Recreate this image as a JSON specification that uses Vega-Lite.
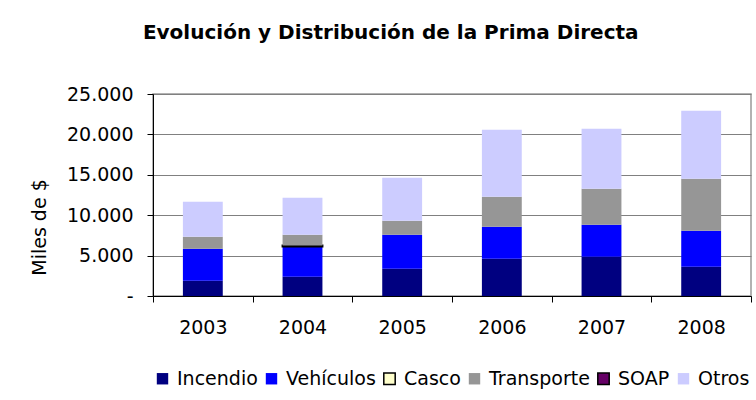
{
  "$schema": "https://vega.github.io/schema/vega-lite/v6.json",
  "width": 598,
  "height": 202,
  "padding": {"left": 30, "top": 23, "right": 2, "bottom": 5},
  "background": "white",
  "title": {
    "text": "Evolución y Distribución de la Prima Directa",
    "font": "DejaVu Sans",
    "fontSize": 20,
    "fontWeight": "bold",
    "color": "black",
    "anchor": "middle",
    "frame": "bounds",
    "offset": 42
  },
  "data": {
    "values": [
      {"anio": "2003", "serie": "Incendio", "valor": 1900},
      {"anio": "2003", "serie": "Vehículos", "valor": 3950},
      {"anio": "2003", "serie": "Transporte", "valor": 1490},
      {"anio": "2003", "serie": "Otros", "valor": 4330},
      {"anio": "2004", "serie": "Incendio", "valor": 2390},
      {"anio": "2004", "serie": "Vehículos", "valor": 3750},
      {"anio": "2004", "serie": "Casco", "valor": 100},
      {"anio": "2004", "serie": "Transporte", "valor": 1350},
      {"anio": "2004", "serie": "Otros", "valor": 4580},
      {"anio": "2005", "serie": "Incendio", "valor": 3380},
      {"anio": "2005", "serie": "Vehículos", "valor": 4210},
      {"anio": "2005", "serie": "Transporte", "valor": 1730},
      {"anio": "2005", "serie": "Otros", "valor": 5320},
      {"anio": "2006", "serie": "Incendio", "valor": 4620},
      {"anio": "2006", "serie": "Vehículos", "valor": 3960},
      {"anio": "2006", "serie": "Transporte", "valor": 3710},
      {"anio": "2006", "serie": "Otros", "valor": 8290},
      {"anio": "2007", "serie": "Incendio", "valor": 4860},
      {"anio": "2007", "serie": "Vehículos", "valor": 3960},
      {"anio": "2007", "serie": "Transporte", "valor": 4460},
      {"anio": "2007", "serie": "Otros", "valor": 7420},
      {"anio": "2008", "serie": "Incendio", "valor": 3630},
      {"anio": "2008", "serie": "Vehículos", "valor": 4450},
      {"anio": "2008", "serie": "Transporte", "valor": 6440},
      {"anio": "2008", "serie": "Otros", "valor": 8410}
    ]
  },
  "transform": [
    {"calculate": "indexof(['Incendio', 'Vehículos', 'Casco', 'Transporte', 'SOAP', 'Otros'], datum.serie)", "as": "orden"}
  ],
  "mark": {"type": "bar", "width": {"band": 0.4}, "strokeWidth": 2},
  "encoding": {
    "x": {
      "field": "anio",
      "type": "nominal",
      "scale": {"paddingInner": 0, "paddingOuter": 0},
      "axis": {
        "title": null,
        "labelAngle": 0,
        "tickBand": "extent",
        "tickSize": 6,
        "tickColor": "black",
        "domainColor": "black",
        "labelFont": "DejaVu Sans",
        "labelFontSize": 19,
        "labelColor": "black",
        "labelPadding": 16,
        "grid": false
      }
    },
    "y": {
      "field": "valor",
      "type": "quantitative",
      "stack": "zero",
      "scale": {"domain": [0, 25000], "nice": false},
      "axis": {
        "title": "Miles de $",
        "titleFont": "DejaVu Sans",
        "titleFontSize": 19,
        "titleFontWeight": "normal",
        "titleColor": "black",
        "titleAngle": 270,
        "titleAlign": "center",
        "titleBaseline": "middle",
        "titleX": -114,
        "titleY": 133,
        "values": [0, 5000, 10000, 15000, 20000, 25000],
        "labelExpr": "datum.value == 0 ? '-' : replace(format(datum.value, ','), ',', '.')",
        "labelFont": "DejaVu Sans",
        "labelFontSize": 19,
        "labelColor": "black",
        "labelPadding": 14,
        "tickSize": 6,
        "tickColor": "black",
        "domainColor": "black",
        "gridColor": "#808080",
        "gridWidth": 1
      }
    },
    "order": {"field": "orden", "type": "quantitative", "sort": "ascending"},
    "color": {
      "field": "serie",
      "type": "nominal",
      "sort": ["Incendio", "Vehículos", "Casco", "Transporte", "SOAP", "Otros"],
      "scale": {
        "domain": ["Incendio", "Vehículos", "Casco", "Transporte", "SOAP", "Otros"],
        "range": ["#000080", "#0000FF", "#FFFFCC", "#969696", "#660066", "#CCCCFF"]
      },
      "legend": {
        "title": null,
        "orient": "bottom",
        "direction": "horizontal",
        "symbolType": "square",
        "symbolSize": 130,
        "labelFont": "DejaVu Sans",
        "labelFontSize": 19,
        "labelColor": "black",
        "labelOffset": 5,
        "columnPadding": 4,
        "offset": 32
      }
    },
    "stroke": {
      "field": "serie",
      "type": "nominal",
      "sort": ["Incendio", "Vehículos", "Casco", "Transporte", "SOAP", "Otros"],
      "scale": {
        "domain": ["Incendio", "Vehículos", "Casco", "Transporte", "SOAP", "Otros"],
        "range": ["transparent", "transparent", "#000000", "transparent", "#000000", "transparent"]
      },
      "legend": {
        "title": null,
        "orient": "bottom",
        "direction": "horizontal",
        "symbolType": "square",
        "symbolSize": 130,
        "labelFont": "DejaVu Sans",
        "labelFontSize": 19,
        "labelColor": "black",
        "labelOffset": 5,
        "columnPadding": 4,
        "offset": 32
      }
    }
  },
  "config": {
    "view": {"stroke": "#999999", "strokeWidth": 1.5}
  }
}
